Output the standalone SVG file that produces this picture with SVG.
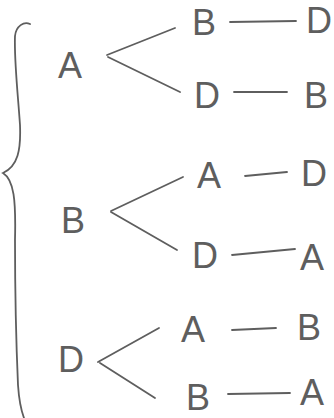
<svg xmlns="http://www.w3.org/2000/svg" width="334" height="418" viewBox="0 0 334 418">
<style>
.t{font-family:"Liberation Sans",Arial,sans-serif;font-size:36px;fill:#5e5e5e;text-anchor:middle}
.c{stroke:#5e5e5e;stroke-width:1.8;fill:none;stroke-linecap:round}
</style>
<rect width="334" height="418" fill="#fff"/>
<g id="brace"><path class="c" d="M30,24 C24,21 16,26 15,36 C14,60 18,95 20,125 C21,150 18,166 3,173 C14,180 16,200 15,240 C15,290 16,340 18,385 C19,400 21,410 24,418"/></g>
<g id="connectors">
<path class="c" d="M107,55 L175,28 M108,57 L180,92 M230,22 L296,21 M234,92 L287,92"/>
<path class="c" d="M111,211 L183,177 M111,212 L177,250 M245,176 L287,172 M232,255 L295,249"/>
<path class="c" d="M98,362 L159,328 M100,363 L155,398 M232,330 L276,328 M228,394 L290,393"/>
</g>
<g id="n1"><text class="t" x="70" y="78">A</text></g>
<g id="n1a"><text class="t" x="204" y="35">B</text></g>
<g id="n1a1"><text class="t" x="319" y="33">D</text></g>
<g id="n1b"><text class="t" x="207" y="108">D</text></g>
<g id="n1b1"><text class="t" x="316" y="108">B</text></g>
<g id="n2"><text class="t" x="73" y="233">B</text></g>
<g id="n2a"><text class="t" x="209" y="188">A</text></g>
<g id="n2a1"><text class="t" x="314" y="186">D</text></g>
<g id="n2b"><text class="t" x="205" y="268">D</text></g>
<g id="n2b1"><text class="t" x="312" y="270">A</text></g>
<g id="n3"><text class="t" x="71" y="372">D</text></g>
<g id="n3a"><text class="t" x="193" y="342">A</text></g>
<g id="n3a1"><text class="t" x="309" y="340">B</text></g>
<g id="n3b"><text class="t" x="198" y="410">B</text></g>
<g id="n3b1"><text class="t" x="312" y="405">A</text></g>
</svg>
